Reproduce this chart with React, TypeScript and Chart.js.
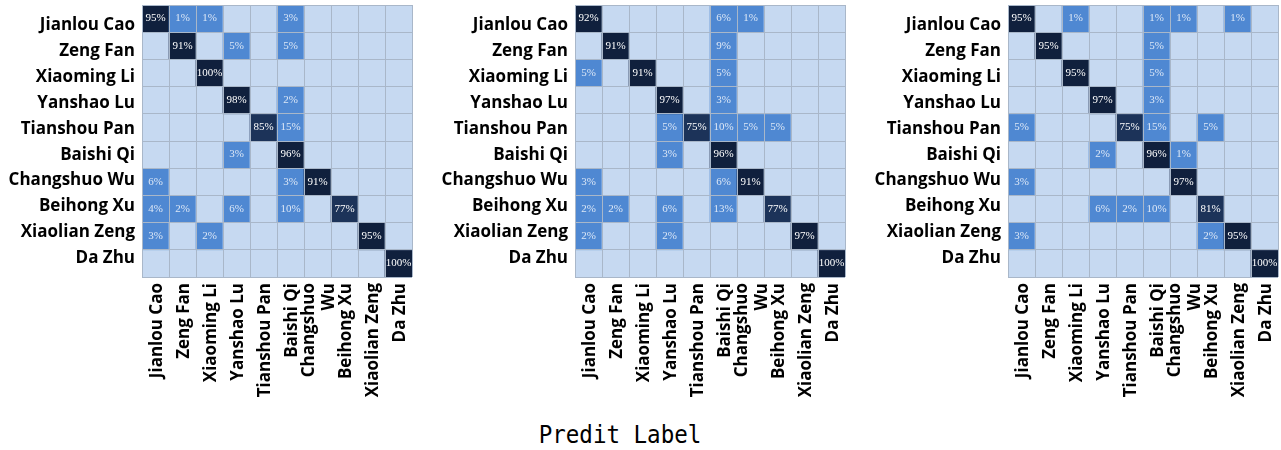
import React, { useEffect, useRef } from "react";
import { Chart, registerables } from "chart.js";

Chart.register(...registerables);

// True labels (rows) and predicted labels (columns)
const rowLabels = [
  "Jianlou Cao",
  "Zeng Fan",
  "Xiaoming Li",
  "Yanshao Lu",
  "Tianshou Pan",
  "Baishi Qi",
  "Changshuo Wu",
  "Beihong Xu",
  "Xiaolian Zeng",
  "Da Zhu",
];

const colLabels: (string | string[])[] = [
  "Jianlou Cao",
  "Zeng Fan",
  "Xiaoming Li",
  "Yanshao Lu",
  "Tianshou Pan",
  "Baishi Qi",
  ["Changshuo", "Wu"],
  "Beihong Xu",
  "Xiaolian Zeng",
  "Da Zhu",
];

// Confusion matrices in percent, one row per true label
const matrixA = [
  [95, 1, 1, 0, 0, 3, 0, 0, 0, 0],
  [0, 91, 0, 5, 0, 5, 0, 0, 0, 0],
  [0, 0, 100, 0, 0, 0, 0, 0, 0, 0],
  [0, 0, 0, 98, 0, 2, 0, 0, 0, 0],
  [0, 0, 0, 0, 85, 15, 0, 0, 0, 0],
  [0, 0, 0, 3, 0, 96, 0, 0, 0, 0],
  [6, 0, 0, 0, 0, 3, 91, 0, 0, 0],
  [4, 2, 0, 6, 0, 10, 0, 77, 0, 0],
  [3, 0, 2, 0, 0, 0, 0, 0, 95, 0],
  [0, 0, 0, 0, 0, 0, 0, 0, 0, 100],
];

const matrixB = [
  [92, 0, 0, 0, 0, 6, 1, 0, 0, 0],
  [0, 91, 0, 0, 0, 9, 0, 0, 0, 0],
  [5, 0, 91, 0, 0, 5, 0, 0, 0, 0],
  [0, 0, 0, 97, 0, 3, 0, 0, 0, 0],
  [0, 0, 0, 5, 75, 10, 5, 5, 0, 0],
  [0, 0, 0, 3, 0, 96, 0, 0, 0, 0],
  [3, 0, 0, 0, 0, 6, 91, 0, 0, 0],
  [2, 2, 0, 6, 0, 13, 0, 77, 0, 0],
  [2, 0, 0, 2, 0, 0, 0, 0, 97, 0],
  [0, 0, 0, 0, 0, 0, 0, 0, 0, 100],
];

const matrixC = [
  [95, 0, 1, 0, 0, 1, 1, 0, 1, 0],
  [0, 95, 0, 0, 0, 5, 0, 0, 0, 0],
  [0, 0, 95, 0, 0, 5, 0, 0, 0, 0],
  [0, 0, 0, 97, 0, 3, 0, 0, 0, 0],
  [5, 0, 0, 0, 75, 15, 0, 5, 0, 0],
  [0, 0, 0, 2, 0, 96, 1, 0, 0, 0],
  [3, 0, 0, 0, 0, 0, 97, 0, 0, 0],
  [0, 0, 0, 6, 2, 10, 0, 81, 0, 0],
  [3, 0, 0, 0, 0, 0, 0, 2, 95, 0],
  [0, 0, 0, 0, 0, 0, 0, 0, 0, 100],
];

const panelMatrices = [matrixA, matrixB, matrixC];

// Row boundaries used for the horizontal grid lines
const rowEdges = [-0.5, 0.5, 1.5, 2.5, 3.5, 4.5, 5.5, 6.5, 7.5, 8.5, 9.5];

const LABEL_FONT = "'Open Sans', 'DejaVu Sans', sans-serif";
const GRID_COLOR = "#a9b7c9";

function cellColor(v: number): string {
  if (v === 0) return "#c6d9f1";
  if (v < 50) return "#4f88d2";
  if (v < 90) return "#1c3359";
  return "#10203d";
}

function textColor(v: number): string {
  return v >= 50 ? "#ffffff" : "#dce7f6";
}

// Writes the percentage inside every non-zero cell
const cellText = {
  id: "cellText",
  afterDatasetsDraw(chart: any) {
    const ctx = chart.ctx;
    ctx.save();
    ctx.font = "11px 'Liberation Serif', 'Times New Roman', serif";
    ctx.textAlign = "center";
    ctx.textBaseline = "middle";
    chart.data.datasets.forEach((ds: any, di: number) => {
      const meta = chart.getDatasetMeta(di);
      meta.data.forEach((el: any, j: number) => {
        const v = ds.values[j];
        if (!v) return;
        const p = el.getCenterPoint();
        ctx.fillStyle = textColor(v);
        ctx.fillText(v + "%", p.x, p.y);
      });
    });
    ctx.restore();
  },
};

// Vertical predicted-class names under the x axis, multi-line names centred on the column
const columnNames = {
  id: "columnNames",
  afterDraw(chart: any) {
    const ctx = chart.ctx;
    const xs = chart.scales.x;
    const top = chart.chartArea.bottom + 6;
    const lineH = 20;
    ctx.save();
    ctx.font = `bold 17px ${LABEL_FONT}`;
    ctx.fillStyle = "#000000";
    ctx.textAlign = "right";
    ctx.textBaseline = "middle";
    (chart.data.labels as any[]).forEach((label, i) => {
      const lines = Array.isArray(label) ? label : [label];
      const px = xs.getPixelForTick(i) + 2;
      ctx.save();
      ctx.translate(px, top);
      ctx.rotate(-Math.PI / 2);
      lines.forEach((line: string, j: number) => {
        ctx.fillText(line, 0, (j - (lines.length - 1) / 2) * lineH);
      });
      ctx.restore();
    });
    ctx.restore();
  },
};

function ConfusionPanel({ matrix, left }: { matrix: number[][]; left: number }) {
  const ref = useRef<HTMLCanvasElement | null>(null);

  useEffect(() => {
    if (!ref.current) return;
    const datasets = matrix.map((row, r) => ({
      label: rowLabels[r],
      values: row,
      data: row.map(() => [r - 0.5, r + 0.5]),
      backgroundColor: row.map(cellColor),
      borderWidth: 0,
      grouped: false,
      barPercentage: 1,
      categoryPercentage: 1,
      yAxisID: "y",
    }));

    const chart = new Chart(ref.current, {
      type: "bar",
      data: { labels: colLabels as any, datasets: datasets as any },
      plugins: [cellText, columnNames],
      options: {
        animation: false,
        responsive: false,
        maintainAspectRatio: false,
        layout: { padding: { top: 5, right: 2, left: 0, bottom: 0 } },
        plugins: {
          legend: { display: false },
          tooltip: { enabled: false },
          title: { display: false },
        },
        scales: {
          // true-class names; this axis runs a little wider than the cell grid
          names: {
            type: "linear",
            position: "left",
            reverse: true,
            min: -0.78,
            max: 9.72,
            afterBuildTicks: (axis: any) => {
              axis.ticks = rowLabels.map((_, i) => ({ value: i }));
            },
            grid: { display: false, drawTicks: false },
            border: { display: false },
            ticks: {
              autoSkip: false,
              padding: 7,
              color: "#000000",
              font: { family: LABEL_FONT, size: 17, weight: "bold" },
              callback: (v: any) => rowLabels[Math.round(Number(v))] ?? "",
            },
            afterFit: (s: any) => {
              s.width = 142;
              s.paddingTop = 0;
              s.paddingBottom = 0;
            },
          },
          x: {
            type: "category",
            offset: true,
            grid: { offset: true, color: GRID_COLOR, z: 1, drawTicks: false },
            border: { display: false },
            ticks: { display: false },
            afterFit: (s: any) => {
              s.height = 140;
              s.paddingLeft = 0;
              s.paddingRight = 0;
            },
          },
          y: {
            type: "linear",
            position: "left",
            reverse: true,
            min: -0.5,
            max: 9.5,
            afterBuildTicks: (axis: any) => {
              axis.ticks = rowEdges.map((v) => ({ value: v }));
            },
            grid: { color: GRID_COLOR, z: 1, drawTicks: false },
            border: { display: false },
            ticks: { display: false },
            afterFit: (s: any) => {
              s.width = 0;
              s.paddingTop = 0;
              s.paddingBottom = 0;
            },
          },
        },
      } as any,
    });
    return () => chart.destroy();
  }, [matrix]);

  return (
    <canvas
      ref={ref}
      width={414}
      height={417}
      style={{ position: "absolute", left, top: 0, width: 414, height: 417 }}
    />
  );
}

export default function App() {
  return (
    <div
      style={{
        position: "absolute",
        left: 0,
        top: 0,
        width: 1281,
        height: 450,
        background: "#ffffff",
        overflow: "hidden",
      }}
    >
      {panelMatrices.map((m, i) => (
        <ConfusionPanel key={i} matrix={m} left={i * 433} />
      ))}
      <div
        style={{
          position: "absolute",
          left: 620,
          top: 422,
          transform: "translateX(-50%) scaleX(0.9)",
          fontFamily: "'DejaVu Sans Mono', monospace",
          fontSize: 25,
          lineHeight: "25px",
          color: "#000000",
          whiteSpace: "nowrap",
        }}
      >
        Predit Label
      </div>
    </div>
  );
}
